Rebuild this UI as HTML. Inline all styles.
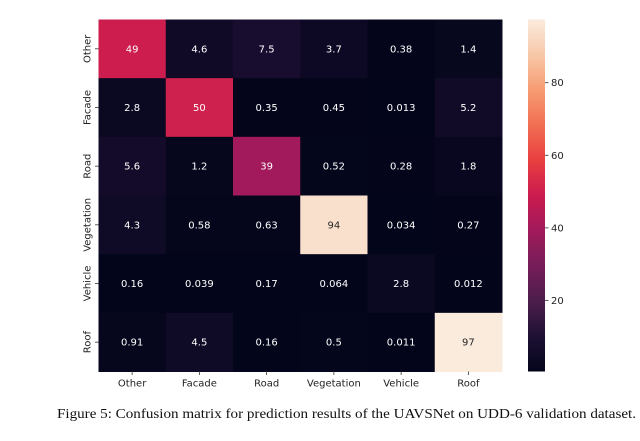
<!DOCTYPE html>
<html><head><meta charset="utf-8"><style>
body{margin:0;background:#fff;width:640px;height:436px;overflow:hidden}
text{font-family:"DejaVu Sans","Liberation Sans",sans-serif}
</style></head><body>
<svg id="chart" width="640" height="436" xmlns="http://www.w3.org/2000/svg">
<text x="57" y="418" textLength="579" lengthAdjust="spacingAndGlyphs" style="font-family:'Liberation Serif',serif;font-size:14px" fill="#111">Figure 5: Confusion matrix for prediction results of the UAVSNet on UDD-6 validation dataset.</text>
</svg>
<script>
const rowLabels=["Other","Facade","Road","Vegetation","Vehicle","Roof"];
const colLabels=["Other","Facade","Road","Vegetation","Vehicle","Roof"];
const values=[
[49,4.6,7.5,3.7,0.38,1.4],
[2.8,50,0.35,0.45,0.013,5.2],
[5.6,1.2,39,0.52,0.28,1.8],
[4.3,0.58,0.63,94,0.034,0.27],
[0.16,0.039,0.17,0.064,2.8,0.012],
[0.91,4.5,0.16,0.5,0.011,97]];
const labels=[
["49","4.6","7.5","3.7","0.38","1.4"],
["2.8","50","0.35","0.45","0.013","5.2"],
["5.6","1.2","39","0.52","0.28","1.8"],
["4.3","0.58","0.63","94","0.034","0.27"],
["0.16","0.039","0.17","0.064","2.8","0.012"],
["0.91","4.5","0.16","0.5","0.011","97"]];
const cbTicks=[20,40,60,80];
const svg=document.getElementById('chart');const NS="http://www.w3.org/2000/svg";
const L=98.5,T=19.5,R=502,B=371.5;
const vmin=Math.min(...values.flat()),vmax=Math.max(...values.flat());
const cw=(R-L)/colLabels.length,ch=(B-T)/rowLabels.length;
const stops=[[0,[3,5,26]],[0.1,[30,16,52]],[0.2,[76,29,75]],[0.3,[118,29,89]],[0.4,[161,26,91]],[0.5,[203,27,79]],[0.6,[232,63,63]],[0.7,[241,110,83]],[0.8,[246,156,115]],[0.9,[247,200,168]],[1,[250,235,221]]];
function cmap(v){let t=(v-vmin)/(vmax-vmin);t=Math.max(0,Math.min(1,t));
for(let i=1;i<stops.length;i++){if(t<=stops[i][0]){const a=stops[i-1],b=stops[i];const f=(t-a[0])/(b[0]-a[0]);
return 'rgb('+a[1].map((c,k)=>Math.round(c+(b[1][k]-c)*f)).join(',')+')';}}return 'rgb(250,235,221)';}
function el(tag,attrs,txt){const e=document.createElementNS(NS,tag);for(const k in attrs)e.setAttribute(k,attrs[k]);if(txt!==undefined)e.textContent=txt;svg.appendChild(e);return e;}
const xs=j=>L+j*cw,ys=i=>T+i*ch;
values.forEach((row,i)=>row.forEach((v,j)=>{
const r=el('rect',{x:xs(j),y:ys(i),width:cw+0.5,height:ch+0.5,fill:cmap(v)});


const t=el('text',{x:xs(j)+cw/2,y:ys(i)+ch/2+3.5,'text-anchor':'middle','font-size':'10',fill:(v-vmin)/(vmax-vmin)>0.6?'#262626':'#fff'},labels[i][j]);


}));
colLabels.forEach((c,j)=>{const x=xs(j)+cw/2;
const tk=el('line',{x1:x,x2:x,y1:B,y2:B+3.5,stroke:'#333','stroke-width':0.8});


const t=el('text',{x:x,y:B+15,'text-anchor':'middle','font-size':'10',fill:'#222'},c);

});
rowLabels.forEach((c,i)=>{const y=ys(i)+ch/2;
const tk=el('line',{x1:L-3.5,x2:L,y1:y,y2:y,stroke:'#333','stroke-width':0.8});


const t=el('text',{x:0,y:0,'text-anchor':'middle','font-size':'10',fill:'#222',transform:`translate(${L-8},${y}) rotate(-90)`},c);

});
const cbL=528,cbR=545,cbT=19.5,cbB=371.5;
const cy=v=>cbB-(v-vmin)/(vmax-vmin)*(cbB-cbT);
const defs=el('defs',{});const g=document.createElementNS(NS,'linearGradient');
g.setAttribute('id','cbg');g.setAttribute('x1','0');g.setAttribute('y1','1');g.setAttribute('x2','0');g.setAttribute('y2','0');
defs.appendChild(g);
for(let k=0;k<=20;k++){const s=document.createElementNS(NS,'stop');s.setAttribute('offset',k/20);s.setAttribute('stop-color',cmap(vmin+(vmax-vmin)*k/20));g.appendChild(s);}
const cb=el('rect',{x:cbL,y:cbT,width:cbR-cbL,height:cbB-cbT,fill:'url(#cbg)'});


cbTicks.forEach(v=>{const y=cy(v)+1.5;
const tk=el('line',{x1:cbR,x2:cbR+3.5,y1:y,y2:y,stroke:'#333','stroke-width':0.8});


const t=el('text',{x:cbR+6,y:y+3.5,'font-size':'10',fill:'#222'},String(v));

});
</script>
</body></html>
